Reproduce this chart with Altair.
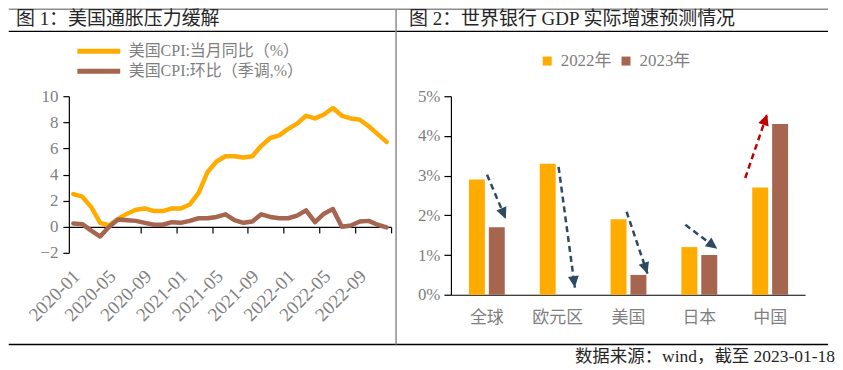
import json
import math
import altair as alt
import pandas as pd

# ---------------- data ----------------
months = [f"{y}-{m:02d}" for y in (2020, 2021, 2022) for m in range(1, 13)]
cpi_yoy = [2.5, 2.3, 1.5, 0.3, 0.1, 0.6, 1.0, 1.3, 1.4, 1.2, 1.2, 1.4,
           1.4, 1.7, 2.6, 4.2, 5.0, 5.4, 5.4, 5.3, 5.4, 6.2, 6.8, 7.0,
           7.5, 7.9, 8.5, 8.3, 8.6, 9.1, 8.5, 8.3, 8.2, 7.7, 7.1, 6.5]
cpi_mom = [0.25, 0.2, -0.3, -0.75, 0.0, 0.55, 0.5, 0.45, 0.3, 0.15, 0.15, 0.35,
           0.3, 0.45, 0.65, 0.65, 0.75, 0.95, 0.5, 0.3, 0.4, 0.95, 0.75, 0.65,
           0.65, 0.85, 1.25, 0.35, 1.0, 1.35, 0.0, 0.1, 0.4, 0.45, 0.15, -0.05]
series_names = ["美国CPI:当月同比（%）", "美国CPI:环比（季调,%）"]
month_label_idx = [0, 4, 8, 12, 16, 20, 24, 28, 32]
month_tick_pos = [3.5, 7.5, 11.5, 15.5, 19.5, 23.5, 27.5, 31.5, 35.5]
left_y_ticks = [-2, 0, 2, 4, 6, 8, 10]

regions = ["全球", "欧元区", "美国", "日本", "中国"]
years = ["2022年", "2023年"]
gdp_2022 = [2.9, 3.3, 1.9, 1.2, 2.7]
gdp_2023 = [1.7, 0.0, 0.5, 1.0, 4.3]
right_y_ticks = [0, 1, 2, 3, 4, 5]

# annotation arrows (x = region index + offset, y in %)
arrow_x0 = [0.01, 1.02, 1.98, 2.81, 3.655]
arrow_y0 = [3.02, 3.22, 2.09, 1.76, 2.94]
arrow_x1 = [0.275, 1.25, 2.275, 3.26, 3.965]
arrow_y1 = [1.91, 0.18, 0.53, 1.16, 4.55]
arrow_kind = ["down", "down", "down", "down", "up"]

title1 = "图 1：美国通胀压力缓解"
title2 = "图 2：世界银行 GDP 实际增速预测情况"
source = "数据来源：wind，截至 2023-01-18"

# ---------------- style ----------------
FONT = "Liberation Serif, Noto Sans CJK SC"
CJK = "Noto Sans CJK SC"
GRAY = "#7f7f7f"
YEL = "#FFAB00"
BRN = "#A5654F"
SLATE = "#2E4A62"
RED = "#C00000"
LW, LH = 323, 157
RW, RH = 355, 199
GAP = 60

# ---------------- left panel ----------------
line_df = pd.DataFrame({
    "i": list(range(36)) * 2,
    "month": months * 2,
    "value": cpi_yoy + cpi_mom,
    "series": [series_names[0]] * 36 + [series_names[1]] * 36,
})

lines = alt.Chart(line_df).mark_line(strokeWidth=4.5, strokeJoin="round", strokeCap="round").encode(
    x=alt.X("i:Q", scale=alt.Scale(domain=[-0.5, 35.5], nice=False, zero=False),
            axis=alt.Axis(values=month_tick_pos, labels=False, ticks=True, tickSize=6,
                          offset=-26, title=None, grid=False)),
    y=alt.Y("value:Q", scale=alt.Scale(domain=[-2, 10], nice=False),
            axis=alt.Axis(values=left_y_ticks, tickSize=6, labelPadding=5, title=None, grid=False)),
    color=alt.Color("series:N", scale=alt.Scale(domain=series_names, range=[YEL, BRN]),
                    legend=alt.Legend(title=None, orient="none", direction="vertical",
                                      legendX=6, legendY=-53, labelLimit=0,
                                      symbolType="stroke", symbolSize=1849, symbolStrokeWidth=5,
                                      clipHeight=16, rowPadding=4, labelFont=FONT, labelFontSize=16,
                                      labelColor=GRAY, labelOffset=6)),
    order=alt.Order("series:N"),
)

month_expr = json.dumps(months, ensure_ascii=False) + "[datum.value]"
label_axis = alt.Chart(pd.DataFrame({"i": month_label_idx})).mark_point(opacity=0).encode(
    x=alt.X("i:Q", scale=alt.Scale(domain=[-0.5, 35.5], nice=False, zero=False),
            axis=alt.Axis(values=month_label_idx, labelExpr=month_expr, orient="bottom",
                          domain=False, ticks=False, tickSize=0, labelAngle=-45,
                          labelAlign="right", labelBaseline="middle", labelPadding=20,
                          labelOffset=3, labelFontSize=19, labelOverlap=False,
                          title=None, grid=False)),
)

one = pd.DataFrame({"d": [0]})


def hrule(y, x1, x2, color, w=1.5):
    return alt.Chart(one).mark_rule(color=color, strokeWidth=w).encode(
        x=alt.value(x1), x2=alt.value(x2), y=alt.value(y))


def label(txt, x, y, size, align="left", color="#262626", font=FONT):
    return alt.Chart(one).mark_text(text=txt, font=font, fontSize=size, align=align,
                                    baseline="alphabetic", color=color).encode(
        x=alt.value(x), y=alt.value(y))


frame = [
    hrule(-87.25, -60.25, 761, "#8c8c8c"),
    hrule(-65, -60.25, 761, "#000000"),
    hrule(249, -60.25, 761, "#000000"),
    alt.Chart(one).mark_rule(color="#8c8c8c", strokeWidth=1.5).encode(
        x=alt.value(328), y=alt.value(-87.25), y2=alt.value(249)),
    label(title1, -53, -71, 19),
    label(title2, 341, -71, 19),
    label(source, 768, 266, 17.5, align="right"),
]

left = alt.layer(lines, label_axis, *frame).resolve_scale(x="independent").resolve_axis(
    x="independent").properties(width=LW, height=LH)

# ---------------- right panel ----------------
bar_df = pd.DataFrame({
    "region": regions * 2,
    "idx": list(range(5)) * 2,
    "year": [years[0]] * 5 + [years[1]] * 5,
    "value": gdp_2022 + gdp_2023,
})
rx = alt.Scale(domain=[-0.5, 4.5], nice=False, zero=False)
ry = alt.Scale(domain=[0, 5], nice=False)
region_expr = json.dumps(regions, ensure_ascii=False) + "[datum.value]"
rx_axis = alt.Axis(values=list(range(5)), labelExpr=region_expr, ticks=False,
                   labelFont=CJK, labelFontSize=17, labelPadding=15, labelOverlap=False,
                   title=None, grid=False)
ry_axis = alt.Axis(values=right_y_ticks, labelExpr="datum.value + '%'", tickSize=7,
                   labelPadding=4, labelOverlap=False, title=None, grid=False)

bars = alt.Chart(bar_df).transform_calculate(
    xa="datum.idx + (datum.year == '2022年' ? -0.246 : 0.035)",
    xb="datum.idx + (datum.year == '2022年' ? -0.021 : 0.26)",
).mark_bar().encode(
    x=alt.X("xa:Q", scale=rx, axis=rx_axis),
    x2="xb:Q",
    y=alt.Y("value:Q", scale=ry, axis=ry_axis),
    y2=alt.datum(0),
    color=alt.Color("year:N", scale=alt.Scale(domain=years, range=[YEL, BRN]),
                    legend=alt.Legend(title=None, orient="none", direction="horizontal",
                                      legendX=88, legendY=-44, symbolType="square", symbolSize=81,
                                      symbolStrokeWidth=0, labelFont=FONT, labelFontSize=17,
                                      labelColor=GRAY, labelOffset=5, columnPadding=6)),
)

px_x = RW / 5.0
px_y = RH / 5.0
arrow_ang = [
    (math.degrees(math.atan2((x1 - x0) * px_x, (y1 - y0) * px_y)) + 360) % 360
    for x0, y0, x1, y1 in zip(arrow_x0, arrow_y0, arrow_x1, arrow_y1)
]
arrow_df = pd.DataFrame({"x0": arrow_x0, "y0": arrow_y0, "x1": arrow_x1, "y1": arrow_y1,
                         "kind": arrow_kind, "ang": arrow_ang})
arrow_color = alt.condition("datum.kind == 'up'", alt.value(RED), alt.value(SLATE))

shafts = alt.Chart(arrow_df).mark_rule(strokeWidth=2.5, strokeDash=[6, 4]).encode(
    x=alt.X("x0:Q", scale=rx, axis=rx_axis), x2="x1:Q",
    y=alt.Y("y0:Q", scale=ry, axis=ry_axis), y2="y1:Q",
    color=arrow_color,
)
heads = alt.Chart(arrow_df).mark_point(shape="M0,0L-0.95,2L0.95,2Z", filled=True, size=130,
                                       opacity=1, strokeWidth=0).encode(
    x=alt.X("x1:Q", scale=rx, axis=rx_axis), y=alt.Y("y1:Q", scale=ry, axis=ry_axis),
    angle=alt.Angle("ang:Q", scale=None),
    color=arrow_color,
)

right = alt.layer(bars, shafts, heads).properties(width=RW, height=RH)

chart = alt.hconcat(left, right, spacing=GAP, bounds="flush", padding=0).resolve_scale(
    color="independent"
).resolve_legend(color="independent").configure_view(
    stroke=None
).configure_axis(
    labelFont=FONT, labelFontSize=17, labelColor=GRAY, domainColor="#000000",
    tickColor="#000000", domainWidth=1.2, tickWidth=1.2, grid=False, labelOverlap=False,
)

chart.save("out.html", embed_options={"renderer": "svg", "actions": False})
